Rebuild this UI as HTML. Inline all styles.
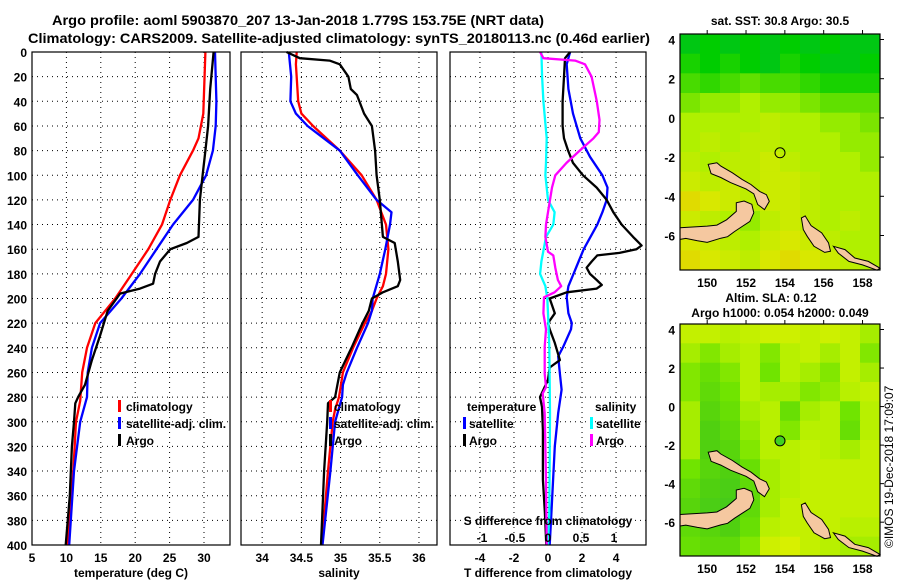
<!DOCTYPE html>
<html><head><meta charset="utf-8"><style>
html,body{margin:0;padding:0;background:#fff;}
svg{display:block;font-family:"Liberation Sans",sans-serif;font-weight:bold;}
</style></head><body>
<svg id="fig" width="900" height="580" viewBox="0 0 900 580">
<text x="298" y="25" font-size="14" text-anchor="middle" textLength="492" lengthAdjust="spacingAndGlyphs">Argo profile: aoml 5903870_207 13-Jan-2018 1.779S 153.75E (NRT data)</text>
<text x="339" y="43" font-size="14" text-anchor="middle" textLength="622" lengthAdjust="spacingAndGlyphs">Climatology: CARS2009. Satellite-adjusted climatology: synTS_20180113.nc (0.46d earlier)</text>
<g id="panels"></g>
<g id="maps"></g>
<text transform="translate(893,548) rotate(-90)" font-size="12" font-weight="normal">©IMOS 19-Dec-2018 17:09:07</text>
</svg>
<script>
// ---------- profile data (depth in m) ----------
const tClimDepth = [0,50,70,80,100,120,140,160,180,200,220,240,260,283,300,340,400];
const tClimVal   = [30.2,29.9,29.2,28.4,26.5,25.1,23.9,21.9,19.5,17.1,14.2,13.0,12.3,12.0,11.4,11.0,10.1];
const tSatDepth  = [0,40,60,80,100,120,140,160,180,200,220,240,260,280,300,340,400];
const tSatVal    = [31.6,31.8,31.7,31.3,30.3,28.4,25.5,23.1,20.7,18.0,14.9,13.7,13.1,13.0,12.0,11.1,10.4];
const tArgoDepth = [0,30,60,80,100,120,150,155,160,170,180,188,192,196,200,210,230,250,270,280,285,300,320,360,400];
const tArgoVal   = [31.4,30.9,30.6,30.2,29.8,29.4,29.2,27.5,25.1,23.6,22.9,22.6,20.7,17.8,17.3,16.0,14.9,13.7,12.7,11.7,11.3,11.1,10.8,10.5,9.9];

const sClimDepth = [0,10,40,50,60,80,100,120,140,160,180,190,200,210,220,240,260,280,290,300,340,400];
const sClimVal   = [34.44,34.43,34.46,34.5,34.65,34.99,35.27,35.46,35.58,35.61,35.58,35.54,35.46,35.4,35.31,35.16,35.03,34.98,34.93,34.9,34.84,34.76];
const sSatDepth  = [0,20,40,50,60,80,100,120,130,140,160,180,200,210,220,240,260,270,280,300,340,400];
const sSatVal    = [34.34,34.37,34.36,34.43,34.58,34.99,35.22,35.46,35.65,35.63,35.57,35.5,35.41,35.4,35.35,35.21,35.08,35.03,35.02,34.93,34.87,34.77];
const sArgoDepth = [0,5,7,10,20,30,35,50,60,80,100,120,150,155,170,185,190,195,200,210,220,240,260,270,280,285,300,340,400];
const sArgoVal   = [34.31,34.48,34.86,34.99,35.1,35.13,35.21,35.3,35.4,35.44,35.46,35.5,35.54,35.69,35.73,35.76,35.73,35.54,35.4,35.36,35.28,35.14,34.99,34.96,34.93,34.84,34.83,34.79,34.75];

const dtSatDepth = [0,10,30,50,70,85,100,110,120,130,140,160,170,180,190,199,212,220,225,239,247,261,274,293,320,347,374,400];
const dtSatVal   = [1.3,1.1,1.2,1.47,1.9,2.47,3.2,3.5,3.45,3.2,2.9,2.1,1.8,1.5,1.2,1.1,1.2,1.4,1.35,0.9,0.6,0.7,0.8,0.6,0.4,0.3,0.2,0.1];
const dtArgoDepth = [0,5,20,40,60,70,80,90,100,110,120,130,140,150,157,160,163,165,170,175,180,185,189,192,195,200,212,220,225,236,250,256,266,280,288,307,347,374,400];
const dtArgoVal   = [1.3,1.0,0.94,0.86,0.86,0.94,1.18,1.47,2.06,2.86,3.45,3.84,4.33,5.0,5.5,5.2,4.2,2.9,2.57,2.27,2.47,2.86,3.16,2.86,1.1,0.1,0.4,0.0,0.1,0.4,0.7,0.1,0.0,-0.47,-0.35,-0.3,-0.3,-0.18,-0.1];
const dsSatDepth = [0,20,40,70,90,100,120,130,140,150,170,180,190,200,212,239,293,374,400];
const dsSatVal   = [-0.1,-0.09,-0.07,-0.02,-0.03,-0.04,0,0.1,0.08,-0.03,-0.1,-0.12,-0.04,-0.01,0.0,0.02,0.03,0.02,0.0];
const dsArgoDepth = [0,5,7,10,20,30,40,55,65,70,80,90,100,110,130,140,150,162,165,175,185,190,195,199,212,225,239,261,272,277,293,347,400];
const dsArgoVal   = [-0.12,-0.07,0.41,0.56,0.66,0.7,0.74,0.78,0.77,0.69,0.48,0.28,0.11,0.06,0,-0.03,-0.04,0,0.08,0.11,0.15,0.2,0.1,-0.06,-0.07,-0.03,-0.05,-0.05,-0.03,-0.08,-0.05,-0.03,-0.02];

const depthTicks = [0,20,40,60,80,100,120,140,160,180,200,220,240,260,280,300,320,340,360,380,400];
const tTicks = [5,10,15,20,25,30];
const sTicks = [34,34.5,35,35.5,36];
const dtTicks = [-4,-2,0,2,4];
const dsTicks = [-1,-0.5,0,0.5,1];

// map grids (row 0 = north)
const sstGrid = [
 [.2,.25,.2,.25,.2,.25,.2,.25,.2,.2],
 [.3,.25,.3,.25,.2,.3,.25,.2,.2,.25],
 [.4,.35,.4,.45,.4,.4,.35,.3,.3,.3],
 [.5,.55,.55,.6,.55,.55,.5,.45,.45,.45],
 [.6,.6,.6,.6,.65,.6,.6,.55,.55,.5],
 [.6,.65,.6,.65,.65,.6,.6,.6,.55,.55],
 [.65,.6,.65,.65,.7,.65,.6,.6,.6,.55],
 [.7,.65,.7,.65,.7,.7,.65,.6,.6,.6],
 [.8,.75,.7,.65,.7,.7,.65,.6,.6,.6],
 [.7,.65,.6,.55,.65,.7,.65,.6,.65,.6],
 [.75,.7,.65,.6,.7,.75,.7,.65,.6,.6],
 [.8,.75,.7,.65,.75,.8,.75,.7,.65,.6]];
const slaGrid = [
 [.8,.8,.75,.8,.85,.85,.8,.85,.8,.7],
 [.7,.6,.7,.75,.6,.75,.8,.7,.8,.6],
 [.6,.5,.6,.75,.55,.75,.7,.6,.8,.7],
 [.6,.45,.55,.75,.7,.7,.6,.65,.75,.8],
 [.7,.4,.5,.7,.75,.5,.7,.75,.55,.75],
 [.7,.35,.45,.65,.75,.6,.75,.75,.5,.75],
 [.7,.35,.4,.6,.75,.75,.8,.75,.7,.8],
 [.55,.4,.35,.5,.7,.75,.8,.8,.8,.8],
 [.45,.35,.3,.45,.7,.75,.8,.8,.8,.8],
 [.4,.3,.25,.45,.7,.8,.8,.8,.8,.8],
 [.45,.4,.35,.5,.75,.8,.8,.8,.75,.75],
 [.5,.45,.45,.6,.85,.9,.8,.75,.7,.7]];
const lonTicks = [150,152,154,156,158];
const latTicks = [4,2,0,-2,-4,-6];
const argoLon = 153.75, argoLat = -1.779;

// ---------- drawing ----------
const NS='http://www.w3.org/2000/svg';
function mk(tag, attrs, parent){const e=document.createElementNS(NS,tag);for(const k in attrs)e.setAttribute(k,attrs[k]);parent.appendChild(e);return e;}
const panelsG=document.getElementById('panels');
const Y0=52, Y1=545;
const yScale = d => Y0 + d*(Y1-Y0)/400;
function lin(d0,d1,r0,r1){return v=>r0+(v-d0)*(r1-r0)/(d1-d0);}

function panel(name,x0,x1,xmin,xmax,ticks){
  const g=mk('g',{},panelsG);
  
  
  const xs=lin(xmin,xmax,x0,x1);
  depthTicks.forEach(d=>{ if(d>0&&d<400){const l=mk('line',{x1:x0,x2:x1,y1:yScale(d),y2:yScale(d),stroke:'#000','stroke-width':1,'stroke-dasharray':'1,4'},g);
    }});
  ticks.forEach(t=>{const x=xs(t);const l=mk('line',{x1:x,x2:x,y1:Y0,y2:Y1,stroke:'#000','stroke-width':1,'stroke-dasharray':'1,4'},g);
    });
  return {g,xs};
}
function series(p,depths,vals,color,name,xs){
  const s=xs||p.xs;
  const pts=depths.map((d,i)=>s(vals[i]).toFixed(1)+','+yScale(d).toFixed(1)).join(' ');
  const pl=mk('polyline',{points:pts,fill:'none',stroke:color,'stroke-width':2.3,'stroke-linejoin':'round'},p.g);
  
  
}
function frame(p,x0,x1){const r=mk('rect',{x:x0,y:Y0,width:x1-x0,height:Y1-Y0,fill:'none',stroke:'#000','stroke-width':1.2},p.g);
  }
function txt(parent,x,y,s,size,anchor,name){const t=mk('text',{x:x,y:y,'font-size':size,'text-anchor':anchor||'start'},parent);t.textContent=s;
  return t;}
function legendBar(parent,x,y,color){const r=mk('rect',{x:x,y:y-10,width:3,height:12,fill:color},parent);
  }

// Panel 1 temperature
const p1=panel('temperature-panel',32,230,5,33.78,tTicks);
series(p1,tClimDepth,tClimVal,'#ff0000','temp-climatology-line');
series(p1,tSatDepth,tSatVal,'#0000ff','temp-satellite-line');
series(p1,tArgoDepth,tArgoVal,'#000000','temp-argo-line');
frame(p1,32,230);
depthTicks.forEach(d=>txt(p1.g,27,yScale(d)+5,String(d),12,'end','y-tick-label'));
tTicks.forEach(t=>txt(p1.g,p1.xs(t),562,String(t),12,'middle','x-tick-label'));
txt(p1.g,131,577,'temperature (deg C)',12,'middle','x-axis-title-temperature');
legendBar(p1.g,118,410,'#ff0000');txt(p1.g,126,411,'climatology',12,'start','legend-climatology');
legendBar(p1.g,118,427,'#0000ff');txt(p1.g,126,428,'satellite-adj. clim.',12,'start','legend-satellite');
legendBar(p1.g,118,444,'#000000');txt(p1.g,126,445,'Argo',12,'start','legend-argo');

// Panel 2 salinity
const p2=panel('salinity-panel',241,437,33.73,36.23,sTicks);
series(p2,sClimDepth,sClimVal,'#ff0000','sal-climatology-line');
series(p2,sSatDepth,sSatVal,'#0000ff','sal-satellite-line');
series(p2,sArgoDepth,sArgoVal,'#000000','sal-argo-line');
frame(p2,241,437);
sTicks.forEach(t=>txt(p2.g,p2.xs(t),562,String(t),12,'middle','x-tick-label'));
txt(p2.g,339,577,'salinity',12,'middle','x-axis-title-salinity');
legendBar(p2.g,329,410,'#ff0000');txt(p2.g,334,411,'climatology',12,'start','legend-climatology');
legendBar(p2.g,329,427,'#0000ff');txt(p2.g,334,428,'satellite-adj. clim.',12,'start','legend-satellite');
legendBar(p2.g,329,444,'#000000');txt(p2.g,334,445,'Argo',12,'start','legend-argo');

// Panel 3 differences
const p3=panel('difference-panel',450,646,-5.76,5.76,dtTicks);
const sx=lin(0,1,548,614);
series(p3,dtSatDepth,dtSatVal,'#0000ff','dT-satellite-line');
series(p3,dtArgoDepth,dtArgoVal,'#000000','dT-argo-line');
series(p3,dsSatDepth,dsSatVal,'#00ffff','dS-satellite-line',sx);
series(p3,dsArgoDepth,dsArgoVal,'#ff00ff','dS-argo-line',sx);
frame(p3,450,646);
dtTicks.forEach(t=>txt(p3.g,p3.xs(t),562,String(t),12,'middle','x-tick-label'));
dsTicks.forEach(t=>txt(p3.g,sx(t),542,String(t),12,'middle','s-tick-label'));
txt(p3.g,548,525,'S difference from climatology',12,'middle','s-axis-title');
txt(p3.g,548,577,'T difference from climatology',12,'middle','x-axis-title-tdiff');
txt(p3.g,467,411,'temperature',12,'start','legend-temperature-header');
txt(p3.g,595,411,'salinity',12,'start','legend-salinity-header');
legendBar(p3.g,463,427,'#0000ff');txt(p3.g,469,428,'satellite',12,'start','legend-t-satellite');
legendBar(p3.g,463,444,'#000000');txt(p3.g,469,445,'Argo',12,'start','legend-t-argo');
legendBar(p3.g,590,427,'#00ffff');txt(p3.g,596,428,'satellite',12,'start','legend-s-satellite');
legendBar(p3.g,590,444,'#ff00ff');txt(p3.g,596,445,'Argo',12,'start','legend-s-argo');

// ---------- maps ----------
const mapsG=document.getElementById('maps');
const LON0=148.6, LON1=158.9, LAT0=4.27, LAT1=-7.77;
function sstColor(v){const st=[[0,[0,176,96]],[.25,[0,205,0]],[.45,[96,224,0]],[.6,[176,240,0]],[.75,[216,232,0]],[.9,[240,192,0]],[1,[224,128,0]]];
  for(let i=1;i<st.length;i++){if(v<=st[i][0]){const a=st[i-1],b=st[i],f=(v-a[0])/(b[0]-a[0]);return 'rgb('+a[1].map((c,j)=>Math.round(c+(b[1][j]-c)*f)).join(',')+')';}}return 'rgb(224,128,0)';}
function slaColor(v){const st=[[0,[48,192,48]],[.35,[80,208,16]],[.55,[112,228,0]],[.75,[184,240,0]],[.9,[216,240,0]],[1,[232,232,0]]];
  for(let i=1;i<st.length;i++){if(v<=st[i][0]){const a=st[i-1],b=st[i],f=(v-a[0])/(b[0]-a[0]);return 'rgb('+a[1].map((c,j)=>Math.round(c+(b[1][j]-c)*f)).join(',')+')';}}return 'rgb(232,232,0)';}
// land outlines (lon,lat)
const land=[
 [[148.6,-5.6],[150.0,-5.52],[150.5,-5.47],[151.0,-5.2],[151.5,-4.77],[151.5,-4.33],[151.9,-4.24],[152.3,-4.41],[152.4,-4.84],[152.2,-5.28],[151.8,-5.54],[151.4,-5.8],[151.05,-6.06],[150.7,-6.14],[150.0,-6.35],[149.5,-6.27],[148.9,-6.15],[148.6,-6.2]],
 [[150.05,-2.37],[150.5,-2.29],[150.7,-2.46],[151.3,-2.8],[151.8,-3.14],[152.25,-3.4],[152.7,-3.75],[153.05,-3.92],[153.2,-4.26],[152.95,-4.68],[152.6,-4.42],[152.4,-3.87],[152.0,-3.62],[151.2,-3.3],[150.7,-3.04],[150.2,-2.84]],
 [[154.85,-5.1],[155.05,-5.0],[155.35,-5.5],[155.9,-5.86],[156.25,-6.37],[156.35,-6.8],[156.05,-6.86],[155.5,-6.55],[155.15,-6.04],[154.95,-5.7]],
 [[156.5,-6.55],[157.1,-6.72],[157.6,-7.15],[158.3,-7.32],[158.9,-7.67],[158.75,-7.77],[158.0,-7.5],[157.3,-7.32],[156.75,-6.9]]
];
function drawMap(name,top,bottom,grid,colorFn,filled){
  const g=mk('g',{},mapsG);
  
  
  const x0=680,x1=880;
  const xs=lin(LON0,LON1,x0,x1), ys=lin(4,-6,top+5.5,top+5.5+(bottom-top)*196/236);
  const yAt=lat=>ys(lat);
  const rows=grid.length, cols=grid[0].length, cw=(x1-x0)/cols, ch=(bottom-top)/rows;
  grid.forEach((row,i)=>row.forEach((v,j)=>{
    const r=mk('rect',{x:(x0+j*cw).toFixed(1),y:(top+i*ch).toFixed(1),width:(cw+0.5).toFixed(1),height:(ch+0.5).toFixed(1),fill:colorFn(v)},g);
    
    
  }));
  land.forEach(poly=>{
    const p=mk('polygon',{points:poly.map(q=>xs(q[0]).toFixed(1)+','+yAt(q[1]).toFixed(1)).join(' '),fill:'#f5c8a0',stroke:'#000','stroke-width':1},g);
    
    
  });
  const c=mk('circle',{cx:xs(argoLon),cy:yAt(argoLat),r:5,fill:filled?'#40d020':'none',stroke:'#000','stroke-width':1},g);
  
  
  const fr=mk('rect',{x:x0,y:top,width:x1-x0,height:bottom-top,fill:'none',stroke:'#000','stroke-width':1.2},g);
  
  
  lonTicks.forEach(l=>{txt(g,xs(l),bottom+17,String(l),12,'middle','lon-tick-label');
    mk('line',{x1:xs(l),x2:xs(l),y1:top,y2:top-4,stroke:'#000'},g);});
  latTicks.forEach(l=>{txt(g,675,yAt(l)+5,String(l),12,'end','lat-tick-label');
    mk('line',{x1:x1,x2:x1+4,y1:yAt(l),y2:yAt(l),stroke:'#000'},g);});
}
drawMap('sst-map',34,270,sstGrid,sstColor,false);
drawMap('sla-map',324,556,slaGrid,slaColor,true);
txt(mapsG,780,25,'sat. SST: 30.8 Argo: 30.5',12,'middle','sst-map-title');
txt(mapsG,771,302,'Altim. SLA: 0.12',12,'middle','sla-map-title');
txt(mapsG,780,317,'Argo h1000: 0.054 h2000: 0.049',12,'middle','sla-map-subtitle');
</script>
</body></html>
